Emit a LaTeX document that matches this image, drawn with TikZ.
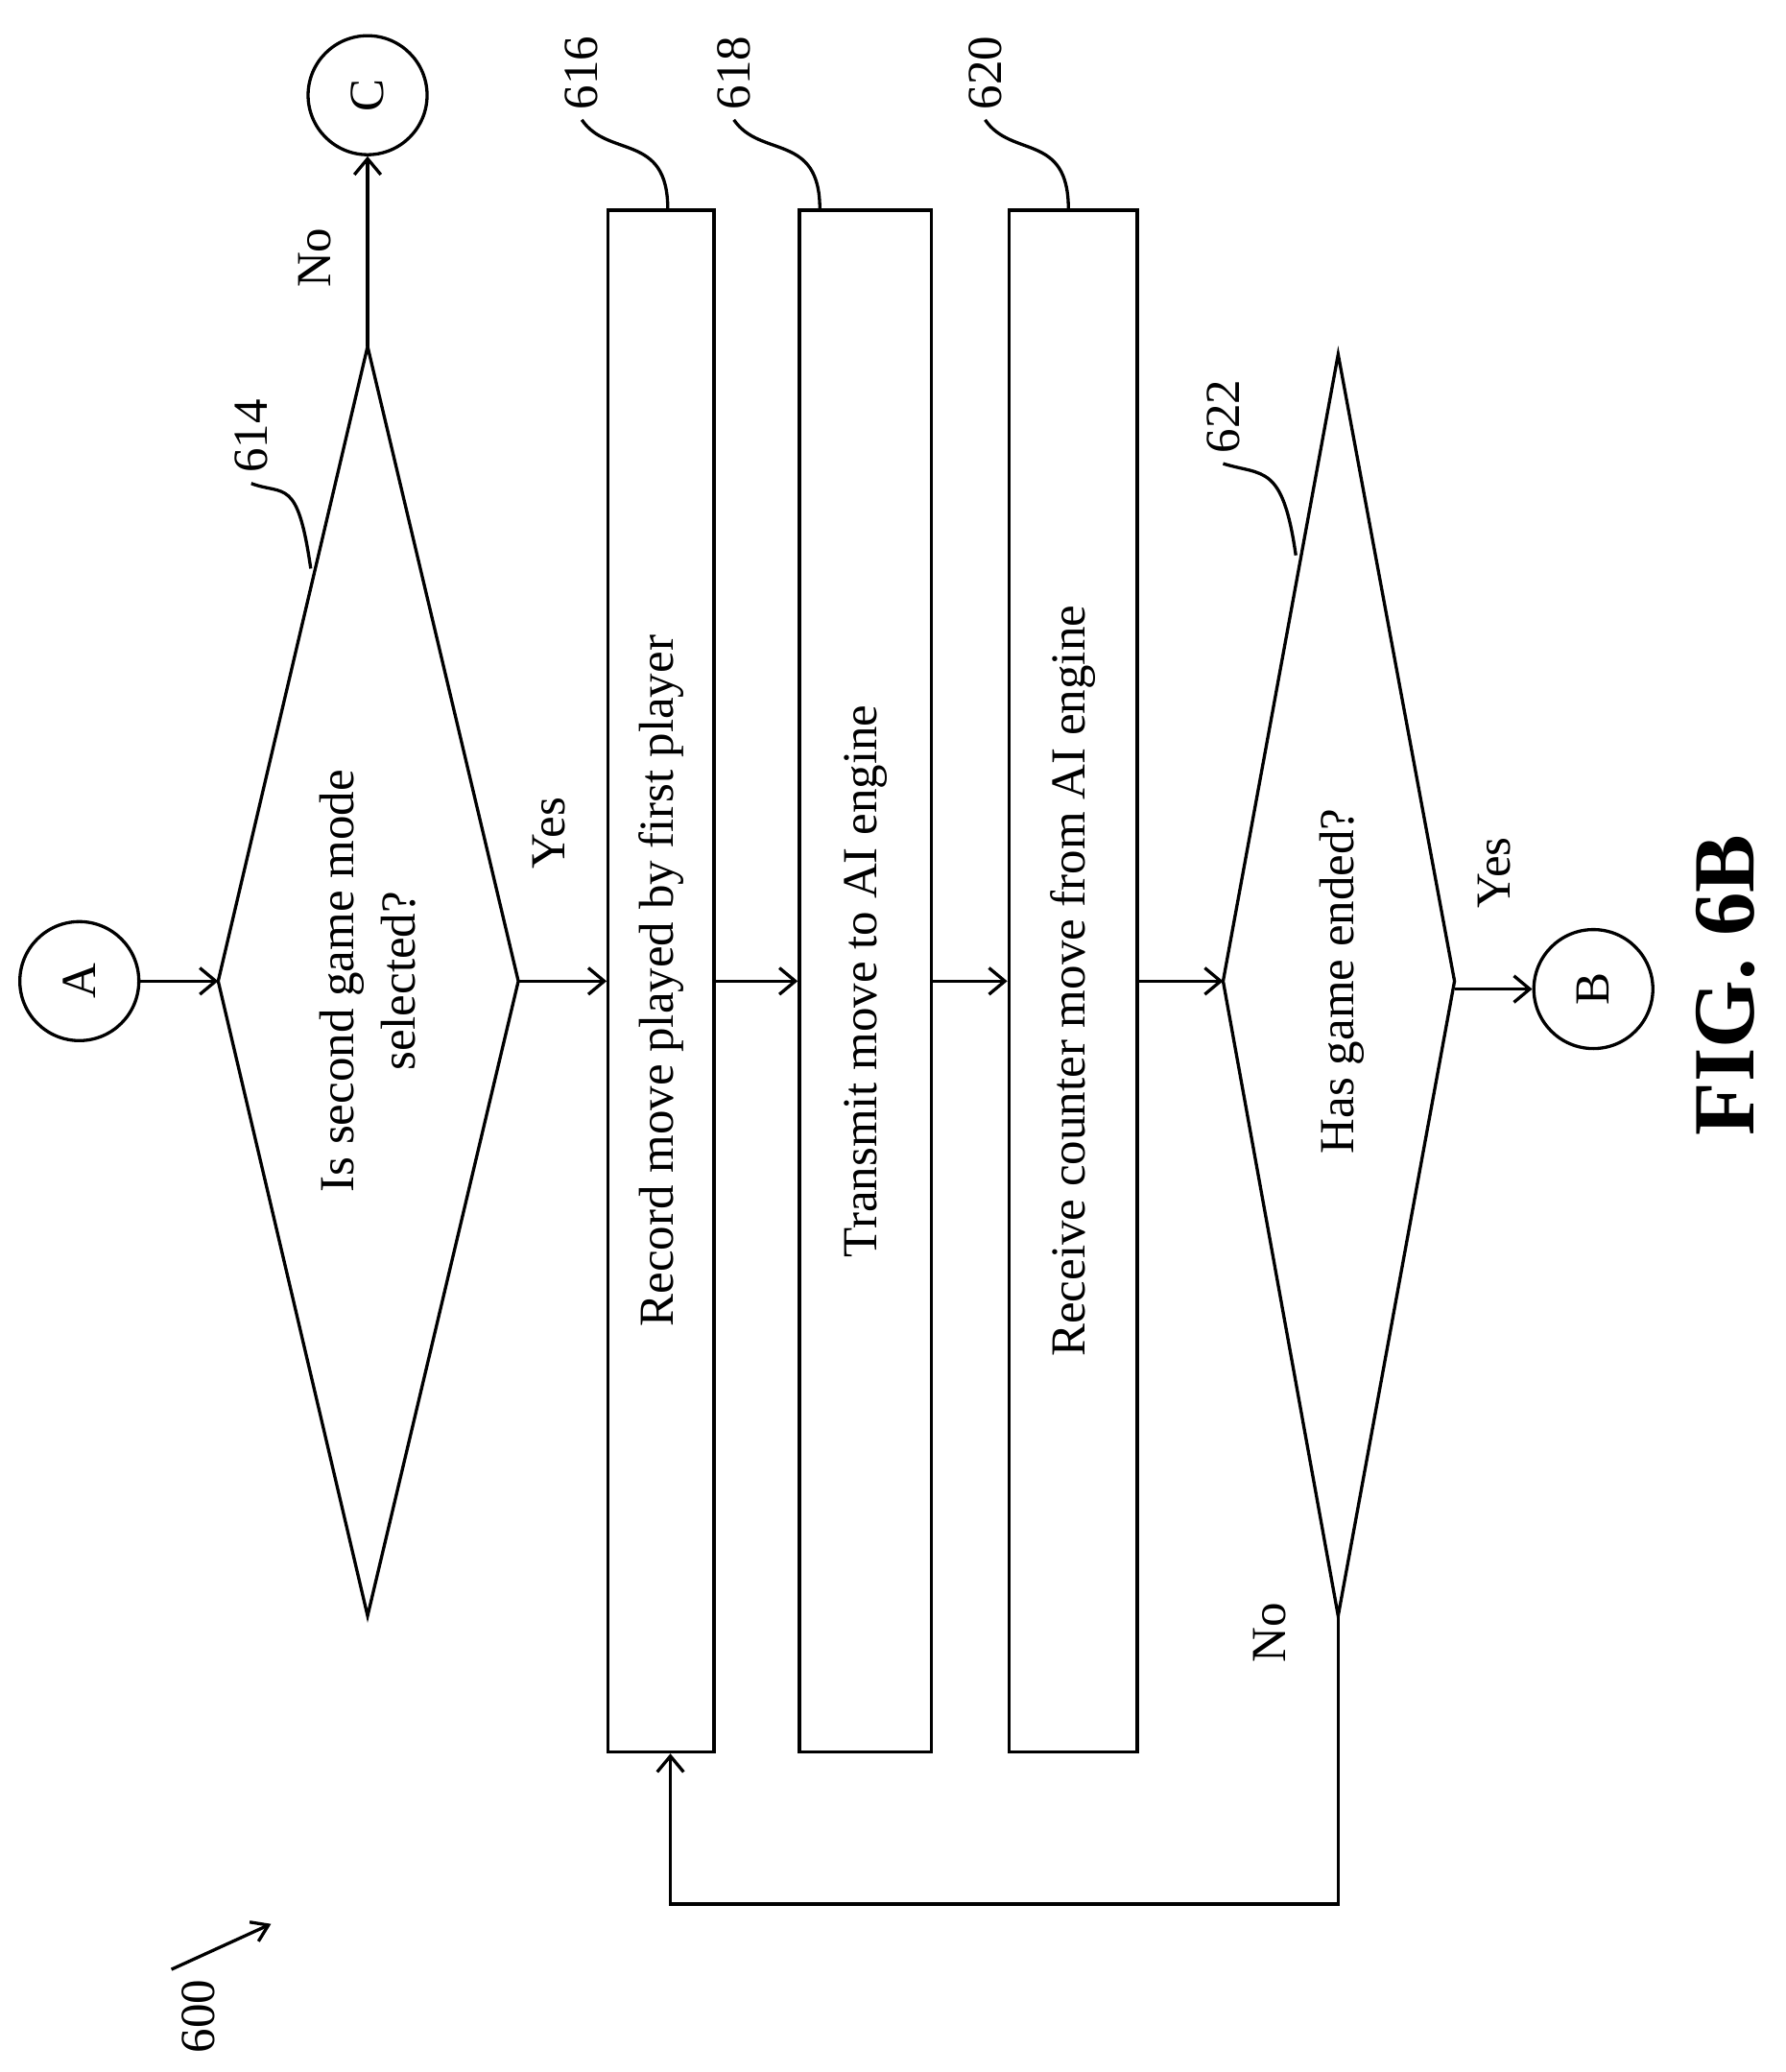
\documentclass[tikz,border=0pt]{standalone}
\usepackage{fontspec}
\setmainfont{Liberation Serif}
\usetikzlibrary{positioning,arrows.meta}

\begin{document}
\begin{tikzpicture}[x=0.5pt,y=-0.5pt,
    line width=1.2pt,
    font=\fontsize{18.5}{23}\selectfont,
    connector/.style={-{Straight Barb[length=6pt,width=10pt]}},
    procbox/.style={draw,rotate=90,minimum width=583pt,inner sep=0pt,
      align=center},
    conn/.style={draw,circle,minimum size=45pt,inner sep=0pt,rotate=90},
    lbl/.style={rotate=90}]
  \useasboundingbox (0,0) rectangle (1350,1567);

  % connectors A, B, C
  \node[conn] (A) at (60,742) {A};
  \node[conn] (C) at (278,72) {C};
  \node[conn] (B) at (1205,748) {B};

  % decision 614
  \coordinate (d1l) at (165,742);
  \coordinate (d1r) at (392,742);
  \coordinate (d1t) at (278,262);
  \coordinate (d1b) at (278,1222);
  \draw (d1l) -- (d1t) -- (d1r) -- (d1b) -- cycle;
  \node[lbl,align=center] (q1) at (278,742)
    {Is second game mode\\selected?};

  % process steps
  \node[procbox,minimum height=40pt] (rec) at (500,742)
    {Record move played by first player};
  \node[procbox,minimum height=50pt] (tx) at (654.5,742)
    {Transmit move to AI engine};
  \node[procbox,minimum height=48.5pt] (rx) at (811.5,742)
    {Receive counter move from AI engine};

  % decision 622
  \coordinate (d2l) at (925,742);
  \coordinate (d2r) at (1100,742);
  \coordinate (d2t) at (1012,268);
  \coordinate (d2b) at (1012,1222);
  \draw (d2l) -- (d2t) -- (d2r) -- (d2b) -- cycle;
  \node[lbl] (q2) at (1015,742) {Has game ended?};

  % flow
  \draw[connector] (A) -- (d1l);
  \draw[connector] (d1t) -- (C);
  \draw[connector] (d1r) -- (rec);
  \draw[connector] (rec) -- (tx);
  \draw[connector] (tx) -- (rx);
  \draw[connector] (rx) -- (d2l);
  \draw[connector] (d2r |- B) -- (B);
  \coordinate (loop) at (507,1440);
  \draw[connector] (d2b) |- (loop) -- (rec.west -| loop);

  \node[lbl] at (238,195) {No};
  \node[lbl] at (415,630) {Yes};
  \node[lbl] at (1130,660) {Yes};
  \node[lbl] at (960,1235) {No};

  % reference numerals
  \node[lbl] (n614) at (190,330) {614};
  \draw (235,430) .. controls (225,360) and (215,375) .. (n614.west);
  \node[lbl] (n616) at (440,55) {616};
  \draw (505,158) .. controls (505,100) and (460,120) .. (n616.west);
  \node[lbl] (n618) at (555,55) {618};
  \draw (620,158) .. controls (620,100) and (575,120) .. (n618.west);
  \node[lbl] (n620) at (745,55) {620};
  \draw (808,158) .. controls (808,100) and (765,120) .. (n620.west);
  \node[lbl] (n622) at (925,315) {622};
  \draw (980,420) .. controls (970,350) and (955,360) .. (n622.west);
  \node[lbl] (n600) at (150,1525) {600};
  \coordinate (p600) at (205,1455);
  \draw[-{Straight Barb[length=6pt,width=8pt]}] (n600.north east) -- (p600);

  \node[rotate=90,font=\fontsize{33}{40}\selectfont\bfseries] (fig) at (1305,745) {FIG. 6B};
\end{tikzpicture}
\end{document}
